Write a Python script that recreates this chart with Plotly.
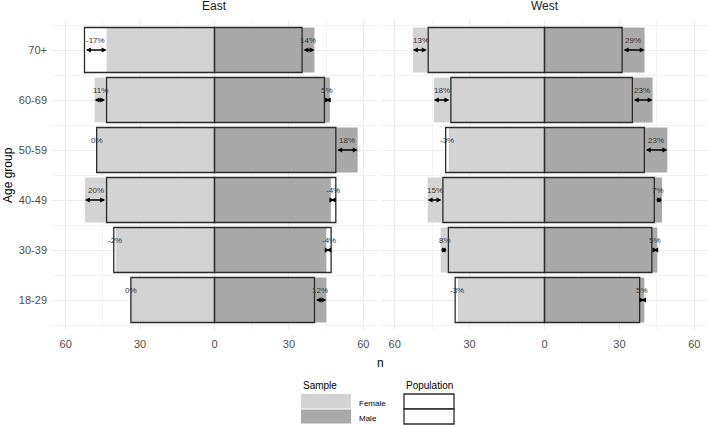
import plotly.graph_objects as go

# ---------------- data (rows bottom -> top) ----------------
age_groups = ["18-29", "30-39", "40-49", "50-59", "60-69", "70+"]

east_pop_female = [33.7, 40.6, 43.5, 47.5, 43.5, 52.4]
east_sample_female = [33.8, 39.8, 52.2, 47.6, 48.3, 43.5]
east_pop_male = [40.3, 47.0, 48.9, 48.9, 44.3, 35.3]
east_sample_male = [45.1, 45.1, 46.9, 57.7, 46.5, 40.3]
east_label_female = ["0%", "-2%", "20%", "0%", "11%", "-17%"]
east_label_male = ["12%", "-4%", "-4%", "18%", "5%", "14%"]

west_pop_female = [35.8, 38.5, 40.7, 39.6, 37.5, 46.6]
west_sample_female = [34.7, 41.6, 46.8, 38.4, 44.3, 52.7]
west_pop_male = [38.1, 43.0, 44.0, 40.0, 35.2, 31.1]
west_sample_male = [40.0, 45.2, 47.1, 49.2, 43.3, 40.1]
west_label_female = ["-3%", "8%", "15%", "-3%", "18%", "13%"]
west_label_male = ["5%", "5%", "7%", "23%", "23%", "29%"]

x_tick_vals = [-60, -30, 0, 30, 60]
x_tick_text = ["60", "30", "0", "30", "60"]

# ---------------- styling ----------------
W, H = 708, 425
FONT = "Liberation Sans, Arial, sans-serif"
FEMALE_COL = "#d3d3d3"
MALE_COL = "#a9a9a9"
OUTLINE = "#2b2b2b"
GRID = "#ebebeb"
GRID_MINOR = "#f3f3f3"
TICK_COL = "#4d4d4d"


def fx(p):
    return p / W


def fy(p):
    return 1 - p / H


ypos = list(range(1, len(age_groups) + 1))

fig = go.Figure()

panels = [
    ("x", "y", east_pop_female, east_sample_female, east_pop_male, east_sample_male,
     east_label_female, east_label_male),
    ("x2", "y2", west_pop_female, west_sample_female, west_pop_male, west_sample_male,
     west_label_female, west_label_male),
]

annotations = []
for xa, ya, popF, sampF, popM, sampM, labF, labM in panels:
    neg_popF = [-v for v in popF]
    neg_sampF = [-v for v in sampF]
    common = dict(orientation="h", width=0.9, xaxis=xa, yaxis=ya,
                  showlegend=False, hoverinfo="skip")
    # white population boxes (background)
    fig.add_bar(y=ypos, x=neg_popF, marker=dict(color="white", line=dict(width=0)), **common)
    fig.add_bar(y=ypos, x=popM, marker=dict(color="white", line=dict(width=0)), **common)
    # sample bars
    fig.add_bar(y=ypos, x=neg_sampF, marker=dict(color=FEMALE_COL, line=dict(width=0)), **common)
    fig.add_bar(y=ypos, x=sampM, marker=dict(color=MALE_COL, line=dict(width=0)), **common)
    # population outlines
    fig.add_bar(y=ypos, x=neg_popF,
                marker=dict(color="rgba(0,0,0,0)", line=dict(color=OUTLINE, width=1.3)), **common)
    fig.add_bar(y=ypos, x=popM,
                marker=dict(color="rgba(0,0,0,0)", line=dict(color=OUTLINE, width=1.3)), **common)

    for pops, samps, labs in ((neg_popF, neg_sampF, labF), (popM, sampM, labM)):
        for yv, p, s, lab in zip(ypos, pops, samps, labs):
            annotations.append(dict(
                x=s, y=yv, ax=p, ay=yv, xref=xa, yref=ya, axref=xa, ayref=ya,
                showarrow=True, arrowhead=2, arrowside="end+start", arrowsize=0.75,
                arrowwidth=1.3, arrowcolor="black", text=""))
            annotations.append(dict(
                x=(s + p) / 2, y=yv + 0.2, xref=xa, yref=ya, text=lab, showarrow=False,
                xanchor="center", yanchor="middle",
                font=dict(size=8, color="#333333", family=FONT)))


def paper_text(txt, x, y, size, color="black", xanchor="center", angle=0):
    return dict(x=fx(x), y=fy(y), xref="paper", yref="paper", text=txt,
                xanchor=xanchor, yanchor="middle", showarrow=False, textangle=angle,
                font=dict(size=size, color=color, family=FONT))


# facet titles
annotations.append(paper_text("East", 214, 6, 12, "#1a1a1a"))
annotations.append(paper_text("West", 545, 6, 12, "#1a1a1a"))
# axis titles
annotations.append(paper_text("n", 380, 363, 12))
annotations.append(paper_text("Age group", 8, 175, 12, angle=-90))

# legend (drawn)
shapes = [
    dict(type="rect", xref="paper", yref="paper", x0=fx(301), x1=fx(351), y0=fy(408.5), y1=fy(394),
         fillcolor=FEMALE_COL, line=dict(width=0)),
    dict(type="rect", xref="paper", yref="paper", x0=fx(301), x1=fx(351), y0=fy(423.5), y1=fy(409.5),
         fillcolor=MALE_COL, line=dict(width=0)),
    dict(type="rect", xref="paper", yref="paper", x0=fx(404), x1=fx(454), y0=fy(409), y1=fy(394),
         fillcolor="white", line=dict(color=OUTLINE, width=1.3)),
    dict(type="rect", xref="paper", yref="paper", x0=fx(404), x1=fx(454), y0=fy(424), y1=fy(409),
         fillcolor="white", line=dict(color=OUTLINE, width=1.3)),
]
annotations.append(paper_text("Sample", 301, 385, 10, xanchor="left"))
annotations.append(paper_text("Population", 404, 385, 10, xanchor="left"))
annotations.append(paper_text("Female", 357, 403, 8, xanchor="left"))
annotations.append(paper_text("Male", 357, 418, 8, xanchor="left"))

xaxis_common = dict(
    range=[-65.5, 65.5], tickmode="array", tickvals=x_tick_vals, ticktext=x_tick_text,
    showgrid=True, gridcolor=GRID, gridwidth=1, zeroline=False, showline=False, ticks="",
    tickfont=dict(size=11, color=TICK_COL, family=FONT), ticklabelstandoff=6,
    minor=dict(tickmode="array", tickvals=[-45, -15, 15, 45], showgrid=True,
               gridcolor=GRID_MINOR, gridwidth=0.6),
    fixedrange=True,
)
yaxis_common = dict(
    range=[0.4, 6.6], domain=[fy(330), fy(20)], tickmode="array", tickvals=ypos,
    ticktext=age_groups, showgrid=True, gridcolor=GRID, gridwidth=1, zeroline=False,
    showline=False, ticks="", tickfont=dict(size=11, color=TICK_COL, family=FONT),
    ticklabelstandoff=4,
    minor=dict(tickmode="array", tickvals=[v + 0.5 for v in range(0, 7)], showgrid=True,
               gridcolor=GRID_MINOR, gridwidth=0.6),
    fixedrange=True,
)

fig.update_layout(
    width=W, height=H, autosize=False,
    margin=dict(l=0, r=0, t=0, b=0),
    paper_bgcolor="white", plot_bgcolor="white",
    barmode="overlay",
    font=dict(family=FONT),
    xaxis=dict(domain=[fx(52), fx(377)], anchor="y", **xaxis_common),
    xaxis2=dict(domain=[fx(381), fx(708)], anchor="y2", **xaxis_common),
    yaxis=dict(anchor="x", **yaxis_common),
    yaxis2=dict(anchor="x2", matches="y", showticklabels=False,
                **{k: v for k, v in yaxis_common.items() if k not in ("ticktext", "tickfont")}),
    annotations=annotations,
    shapes=shapes,
    showlegend=False,
)

fig.write_html(
    "out.html",
    config={"displayModeBar": False},
    post_script="document.body.style.margin='0';document.body.style.overflow='hidden';",
)
